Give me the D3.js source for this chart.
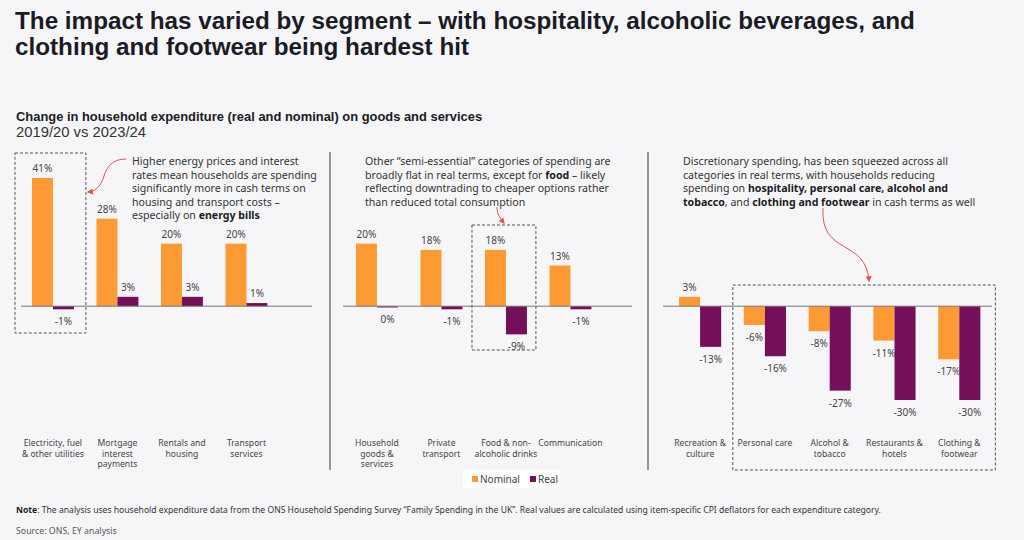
<!DOCTYPE html>
<html>
<head>
<meta charset="utf-8">
<title>Change in household expenditure</title>
<script src="https://d3js.org/d3.v7.min.js"></script>
<style>
  body { margin: 0; background: #f6f6f9; }
  svg { display: block; font-family: "Noto Sans", "Open Sans", sans-serif; }
</style>
</head>
<body>
<div id="chart"></div>
<script>

// ---- data ----
var essentialCats = ["Electricity, fuel & other utilities", "Mortgage interest payments", "Rentals and housing", "Transport services"];
var essentialTicks = [["Electricity, fuel", "& other utilities"], ["Mortgage", "interest", "payments"], ["Rentals and", "housing"], ["Transport", "services"]];
var essentialNominal = [41, 28, 20, 20];
var essentialReal = [-1, 3, 3, 1];

var semiCats = ["Household goods & services", "Private transport", "Food & non-alcoholic drinks", "Communication"];
var semiTicks = [["Household", "goods &", "services"], ["Private", "transport"], ["Food & non-", "alcoholic drinks"], ["Communication"]];
var semiNominal = [20, 18, 18, 13];
var semiReal = [-0.4, -1, -9, -1];

var discCats = ["Recreation & culture", "Personal care", "Alcohol & tobacco", "Restaurants & hotels", "Clothing & footwear"];
var discTicks = [["Recreation &", "culture"], ["Personal care"], ["Alcohol &", "tobacco"], ["Restaurants &", "hotels"], ["Clothing &", "footwear"]];
var discNominal = [3, -6, -8, -11, -17];
var discReal = [-13, -16, -27, -30, -30];

var seriesNames = ["Nominal", "Real"];
var colors = { Nominal: "#fd9a33", Real: "#750e5b" };

// ---- canvas ----
var width = 1024, height = 540;
var svg = d3.select("#chart").append("svg")
    .attr("width", width)
    .attr("height", height);

svg.append("rect").attr("width", width).attr("height", height).attr("fill", "#f6f6f9");

var defs = svg.append("defs");
var grad = defs.append("linearGradient").attr("id", "rule");
grad.append("stop").attr("offset", "0%").attr("stop-color", "#ffe41a");
grad.append("stop").attr("offset", "42%").attr("stop-color", "#fbdc3c");
grad.append("stop").attr("offset", "72%").attr("stop-color", "#f0873e");
grad.append("stop").attr("offset", "100%").attr("stop-color", "#e421dc");

defs.append("marker")
    .attr("id", "head")
    .attr("viewBox", "0 0 10 10")
    .attr("refX", 8).attr("refY", 5)
    .attr("markerWidth", 6).attr("markerHeight", 6)
    .attr("markerUnits", "userSpaceOnUse")
    .attr("orient", "auto")
  .append("path")
    .attr("d", "M0,0 L10,5 L0,10 z")
    .attr("fill", "#e8524a");

// scale font size so a text ends up at a given width
function fit(sel, w) {
    var fs = +sel.attr("font-size");
    var len = sel.node().getComputedTextLength();
    if (len > 0) sel.attr("font-size", (fs * w / len).toFixed(2));
    return +sel.attr("font-size");
}

// ---- titles ----
var titleLines = [
    "The impact has varied by segment \u2013 with hospitality, alcoholic beverages, and",
    "clothing and footwear being hardest hit"
];
var titles = titleLines.map(function(t, i) {
    return svg.append("text")
        .attr("x", 15).attr("y", 29 + i * 25.5)
        .attr("font-family", "'Liberation Sans', Arial, sans-serif")
        .attr("font-size", 22).attr("font-weight", 700).attr("fill", "#1b1b26")
        .text(t);
});
var titleSize = fit(titles[0], 900);
titles[1].attr("font-size", titleSize);

svg.append("line")
    .attr("x1", 15).attr("x2", 993)
    .attr("y1", 100).attr("y2", 100)
    .attr("stroke", "url(#rule)").attr("stroke-width", 2.5);

var sub = svg.append("text")
    .attr("x", 16).attr("y", 121)
    .attr("font-family", "'Liberation Sans', Arial, sans-serif")
    .attr("font-size", 12.4).attr("font-weight", 700).attr("fill", "#1b1b26")
    .text("Change in household expenditure (real and nominal) on goods and services");
fit(sub, 466);
var period = svg.append("text")
    .attr("x", 16).attr("y", 136.5)
    .attr("font-family", "'Liberation Sans', Arial, sans-serif")
    .attr("font-size", 14).attr("fill", "#333")
    .text("2019/20 vs 2023/24");
fit(period, 130);

// shared y scale for all three panels
var y = d3.scaleLinear()
    .domain([-30, 41])
    .range([400, 178]);

function label(v) {
    var r = Math.round(v);
    return (r === 0 ? "0" : r) + "%";
}

// draws one panel of grouped bars
function drawPanel(cats, ticks, nominal, real, x0, step, axis) {
    var x = d3.scaleBand()
        .domain(cats)
        .range([x0, x0 + step * cats.length])
        .paddingInner(0.35)
        .paddingOuter(0.175);

    var xs = d3.scaleBand()
        .domain(seriesNames)
        .range([0, x.bandwidth()]);

    var rows = [];
    cats.forEach(function(c, i) {
        rows.push({ cat: c, key: "Nominal", value: nominal[i] });
        rows.push({ cat: c, key: "Real", value: real[i] });
    });

    var g = svg.append("g");

    g.selectAll("rect.bar")
        .data(rows)
        .enter()
        .append("rect")
        .attr("class", "bar")
        .attr("x", function(d) { return x(d.cat) + xs(d.key); })
        .attr("y", function(d) { return y(Math.max(0, d.value)); })
        .attr("width", xs.bandwidth())
        .attr("height", function(d) { return Math.abs(y(d.value) - y(0)); })
        .attr("fill", function(d) { return colors[d.key]; });

    g.selectAll("text.val")
        .data(rows)
        .enter()
        .append("text")
        .attr("class", "val")
        .attr("x", function(d) { return x(d.cat) + xs(d.key) + xs.bandwidth() / 2; })
        .attr("y", function(d) { return d.value > 0 ? y(d.value) - 6 : y(Math.min(0, d.value)) + 16; })
        .attr("text-anchor", "middle")
        .attr("font-size", 10)
        .attr("fill", "#444")
        .text(function(d) { return label(d.value); });

    // zero line
    g.append("line")
        .attr("x1", axis[0]).attr("x2", axis[1])
        .attr("y1", y(0)).attr("y2", y(0))
        .attr("stroke", "#777").attr("stroke-width", 1);

    // category labels
    var t = g.selectAll("text.cat")
        .data(cats)
        .enter()
        .append("text")
        .attr("class", "cat")
        .attr("text-anchor", "middle")
        .attr("font-size", 8.6)
        .attr("fill", "#444")
        .attr("y", 446);
    t.each(function(c, i) {
        var el = d3.select(this);
        ticks[i].forEach(function(line, j) {
            el.append("tspan")
                .attr("x", x(c) + x.bandwidth() / 2)
                .attr("dy", j === 0 ? 0 : 10.5)
                .text(line);
        });
    });

    return x;
}

var x1 = drawPanel(essentialCats, essentialTicks, essentialNominal, essentialReal, 20.7, 64.5, [21, 312]);
var x2 = drawPanel(semiCats, semiTicks, semiNominal, semiReal, 344.7, 64.5, [343, 632]);
var x3 = drawPanel(discCats, discTicks, discNominal, discReal, 667.7, 64.8, [663, 992]);

// panel dividers
[330, 648].forEach(function(px) {
    svg.append("line")
        .attr("x1", px).attr("x2", px)
        .attr("y1", 152).attr("y2", 470)
        .attr("stroke", "#4d5a57").attr("stroke-width", 1.2);
});

// dashed highlight boxes
function box(x, yTop, w, h) {
    svg.append("rect")
        .attr("x", x).attr("y", yTop)
        .attr("width", w).attr("height", h)
        .attr("fill", "none")
        .attr("stroke", "#555")
        .attr("stroke-width", 1)
        .attr("stroke-dasharray", "3,2");
}
box(x1(essentialCats[0]) - 17, 153, x1.bandwidth() + 29, 180);
box(x2(semiCats[2]) - 13, 225, x2.bandwidth() + 22, 125);
box(x3(discCats[1]) - 11, 285, x3(discCats[4]) - x3(discCats[1]) + x3.bandwidth() + 26, 185);

// annotations
function note(xp, yp, lines) {
    var t = svg.append("text")
        .attr("x", xp).attr("y", yp)
        .attr("font-size", 10.6)
        .attr("fill", "#333");
    lines.forEach(function(parts, i) {
        parts.forEach(function(p, j) {
            var s = t.append("tspan").text(p[0]);
            if (j === 0) s.attr("x", xp).attr("dy", i === 0 ? 0 : 13.5);
            if (p[1]) s.attr("font-weight", 700).attr("fill", "#1b1b26");
        });
    });
}

note(132, 165, [
    [["Higher energy prices and interest"]],
    [["rates mean households are spending"]],
    [["significantly more in cash terms on"]],
    [["housing and transport costs \u2013"]],
    [["especially on "], ["energy bills", true]]
]);

note(365, 165, [
    [["Other \u201csemi-essential\u201d categories of spending are"]],
    [["broadly flat in real terms, except for "], ["food", true], [" \u2013 likely"]],
    [["reflecting downtrading to cheaper options rather"]],
    [["than reduced total consumption"]]
]);

note(683, 165, [
    [["Discretionary spending, has been squeezed across all"]],
    [["categories in real terms, with households reducing"]],
    [["spending on "], ["hospitality, personal care, alcohol and", true]],
    [["tobacco", true], [", and "], ["clothing and footwear", true], [" in cash terms as well"]]
]);

// arrows
var arrows = [
    "M126,159 C112,159 107,167 104,176 C101,185 97,191 88,192",
    "M497,207 C497,214 500,218 504,223",
    "M823,208 C820,256 866,238 869,281"
];
svg.selectAll("path.arrow")
    .data(arrows)
    .enter()
    .append("path")
    .attr("class", "arrow")
    .attr("d", function(d) { return d; })
    .attr("fill", "none")
    .attr("stroke", "#e8524a")
    .attr("stroke-width", 1)
    .attr("marker-end", "url(#head)");

// legend
var legend = svg.append("g");
legend.append("rect")
    .attr("x", 463).attr("y", 470)
    .attr("width", 97).attr("height", 18)
    .attr("fill", "#fff");
var lx = 472;
seriesNames.forEach(function(s) {
    legend.append("rect")
        .attr("x", lx).attr("y", 476)
        .attr("width", 6).attr("height", 6)
        .attr("fill", colors[s]);
    var tx = legend.append("text")
        .attr("x", lx + 8).attr("y", 483)
        .attr("font-size", 10).attr("fill", "#444")
        .text(s);
    lx += 8 + tx.node().getComputedTextLength() + 10;
});

// footnotes
var foot = svg.append("text")
    .attr("x", 16).attr("y", 513)
    .attr("font-size", 8.6).attr("fill", "#333");
foot.append("tspan").attr("font-weight", 700).attr("fill", "#1b1b26").text("Note");
foot.append("tspan").text(": The analysis uses household expenditure data from the ONS Household Spending Survey \u201cFamily Spending in the UK\u201d. Real values are calculated using item-specific CPI deflators for each expenditure category.");

svg.append("text")
    .attr("x", 16).attr("y", 534)
    .attr("font-size", 8.8).attr("fill", "#555")
    .text("Source: ONS, EY analysis");

</script>
</body>
</html>
